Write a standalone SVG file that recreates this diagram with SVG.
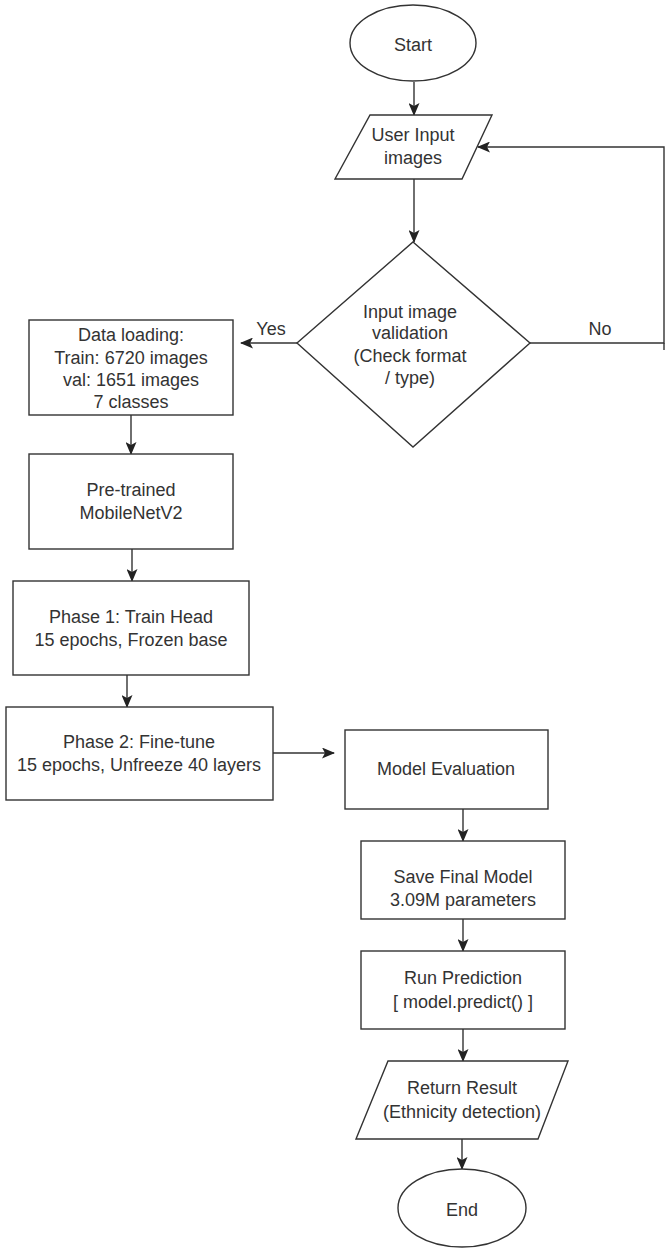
<svg xmlns="http://www.w3.org/2000/svg" width="666" height="1249" viewBox="0 0 666 1249">
<style>
.s{fill:#fff;stroke:#333;stroke-width:1.4}
.c{fill:none;stroke:#333;stroke-width:1.4}
text{font-family:"Liberation Sans",Arial,sans-serif;font-size:18px;fill:#333;text-anchor:middle}
</style>
<defs>
<marker id="ah" markerUnits="userSpaceOnUse" markerWidth="13" markerHeight="11" refX="12" refY="5.5" orient="auto">
<path d="M0,0 L13,5.5 L0,11 L3,5.5 Z" fill="#222"/>
</marker>
</defs>
<rect width="666" height="1249" fill="#fff"/>
<g id="connectors">
<path class="c" d="M414,82 V115" marker-end="url(#ah)"/>
<path class="c" d="M414,179 V242" marker-end="url(#ah)"/>
<path class="c" d="M297,343 H241" marker-end="url(#ah)"/>
<path class="c" d="M530,343 H664 V147 H478" marker-end="url(#ah)"/>
<path class="c" d="M664,343 V350"/>
<path class="c" d="M131,415 V454" marker-end="url(#ah)"/>
<path class="c" d="M132,549 V581" marker-end="url(#ah)"/>
<path class="c" d="M127,675 V707" marker-end="url(#ah)"/>
<path class="c" d="M273,753 H334" marker-end="url(#ah)"/>
<path class="c" d="M463,809 V841" marker-end="url(#ah)"/>
<path class="c" d="M463,919 V951" marker-end="url(#ah)"/>
<path class="c" d="M463,1029 V1061" marker-end="url(#ah)"/>
<path class="c" d="M462,1139 V1169" marker-end="url(#ah)"/>
<text x="271" y="335">Yes</text>
<text x="600" y="335">No</text>
</g>
<g id="start">
<ellipse class="s" cx="413" cy="43" rx="63" ry="38"/>
<text x="413" y="51">Start</text>
</g>
<g id="user-input">
<polygon class="s" points="370,115 492,115 462,179 335,179"/>
<text x="413" y="141">User Input</text>
<text x="413" y="164">images</text>
</g>
<g id="validation">
<polygon class="s" points="413,242 530,343 413,447 297,343"/>
<text x="410" y="318">Input image</text>
<text x="410" y="339">validation</text>
<text x="410" y="362">(Check format</text>
<text x="410" y="384">/ type)</text>
</g>
<g id="data-loading">
<rect class="s" x="29" y="320" width="204" height="95"/>
<text x="131" y="341">Data loading:</text>
<text x="131" y="364">Train: 6720 images</text>
<text x="131" y="386">val: 1651 images</text>
<text x="131" y="408">7 classes</text>
</g>
<g id="pretrained">
<rect class="s" x="29" y="454" width="204" height="95"/>
<text x="131" y="496">Pre-trained</text>
<text x="131" y="519">MobileNetV2</text>
</g>
<g id="phase1">
<rect class="s" x="13" y="581" width="236" height="94"/>
<text x="131" y="623">Phase 1: Train Head</text>
<text x="131" y="646">15 epochs, Frozen base</text>
</g>
<g id="phase2">
<rect class="s" x="6" y="707" width="267" height="93"/>
<text x="139" y="748">Phase 2: Fine-tune</text>
<text x="139" y="771">15 epochs, Unfreeze 40 layers</text>
</g>
<g id="model-eval">
<rect class="s" x="345" y="730" width="203" height="79"/>
<text x="446" y="775">Model Evaluation</text>
</g>
<g id="save-model">
<rect class="s" x="361" y="841" width="204" height="78"/>
<text x="463" y="883">Save Final Model</text>
<text x="463" y="906">3.09M parameters</text>
</g>
<g id="run-prediction">
<rect class="s" x="361" y="951" width="204" height="78"/>
<text x="463" y="984">Run Prediction</text>
<text x="463" y="1008">[ model.predict() ]</text>
</g>
<g id="return-result">
<polygon class="s" points="388,1061 568,1061 538,1139 356,1139"/>
<text x="462" y="1094">Return Result</text>
<text x="462" y="1118">(Ethnicity detection)</text>
</g>
<g id="end">
<ellipse class="s" cx="462" cy="1208" rx="64" ry="39"/>
<text x="462" y="1216">End</text>
</g>
</svg>
